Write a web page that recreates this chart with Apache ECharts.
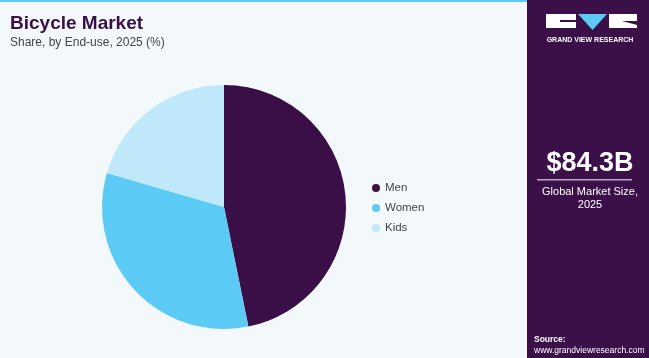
<!DOCTYPE html>
<html><head><meta charset="utf-8">
<script src="https://cdn.jsdelivr.net/npm/echarts@6/dist/echarts.min.js"></script>
<style>html,body{margin:0;padding:0;background:#f3f8fb}#c{width:649px;height:358px}</style>
</head><body><div id="c"></div>
<script>
var categories = ['Men', 'Women', 'Kids'];
var shares = [46.8, 32.7, 20.5];
var colors = ['#3a0f47', '#5bcbf6', '#bfe9fa'];
var marketSize = '$84.3B';

var chart = echarts.init(document.getElementById('c'));
var panelX = 527;
chart.setOption({
  backgroundColor: '#f3f8fb',
  animation: false,
  title: [{
    text: 'Bicycle Market',
    subtext: 'Share, by End-use, 2025 (%)',
    left: 10, top: 14, itemGap: 4, padding: 0,
    textStyle: {fontFamily: 'Arial, Liberation Sans', fontWeight: 'bold', fontSize: 19, color: '#3a0f47'},
    subtextStyle: {fontFamily: 'Arial, Liberation Sans', fontSize: 12, color: '#444'}
  }],
  legend: {
    orient: 'vertical', left: 367, top: 177,
    icon: 'circle', itemWidth: 8, itemHeight: 8, itemGap: 8,
    textStyle: {fontFamily: 'Arial, Liberation Sans', fontSize: 11.5, color: '#444'},
    data: categories
  },
  series: [{
    type: 'pie',
    center: [224, 207], radius: 122,
    startAngle: 90, clockwise: true,
    label: {show: false}, labelLine: {show: false},
    emphasis: {disabled: true},
    data: categories.map(function (c, i) { return {name: c, value: shares[i], itemStyle: {color: colors[i]}}; })
  }],
  graphic: [
    {type: 'rect', shape: {x: 0, y: 0, width: panelX, height: 2}, style: {fill: '#5bcbf6'}, z: 10},
    {type: 'rect', shape: {x: panelX, y: 0, width: 649 - panelX, height: 358}, style: {fill: '#3b1049'}, z: 10},
    // logo
    {type: 'polygon', shape: {points: [[546,14],[576,14],[576,20],[560,20],[560,22],[576,22],[576,28],[546,28]]}, style: {fill: '#fff'}, z: 11},
    {type: 'polygon', shape: {points: [[578,14],[607,14],[592.5,30]]}, style: {fill: '#5bcbf6'}, z: 11},
    {type: 'polygon', shape: {points: [[609,14],[637,14],[637,21],[622,21],[637,25],[637,28],[609,28]]}, style: {fill: '#fff'}, z: 11},
    {type: 'text', x: 590, y: 40, style: {text: 'GRAND VIEW RESEARCH', fill: '#fff', font: 'bold 7px Arial, Liberation Sans', align: 'center', verticalAlign: 'middle'}, z: 11},
    {type: 'text', x: 590, y: 164, style: {text: marketSize, fill: '#fff', font: 'bold 27px Arial, Liberation Sans', align: 'center', verticalAlign: 'middle'}, z: 11},
    {type: 'rect', shape: {x: 537, y: 179, width: 95, height: 1.5}, style: {fill: '#b9a8c4'}, z: 11},
    {type: 'text', x: 590, y: 192, style: {text: 'Global Market Size,', fill: '#fff', font: '11px Arial, Liberation Sans', align: 'center', verticalAlign: 'middle'}, z: 11},
    {type: 'text', x: 590, y: 205, style: {text: '2025', fill: '#fff', font: '11px Arial, Liberation Sans', align: 'center', verticalAlign: 'middle'}, z: 11},
    {type: 'text', x: 534, y: 340, style: {text: 'Source:', fill: '#fff', font: 'bold 8.5px Arial, Liberation Sans', verticalAlign: 'middle'}, z: 11},
    {type: 'text', x: 534, y: 351, style: {text: 'www.grandviewresearch.com', fill: '#fff', font: '8.5px Arial, Liberation Sans', verticalAlign: 'middle'}, z: 11}
  ]
});
</script></body></html>
